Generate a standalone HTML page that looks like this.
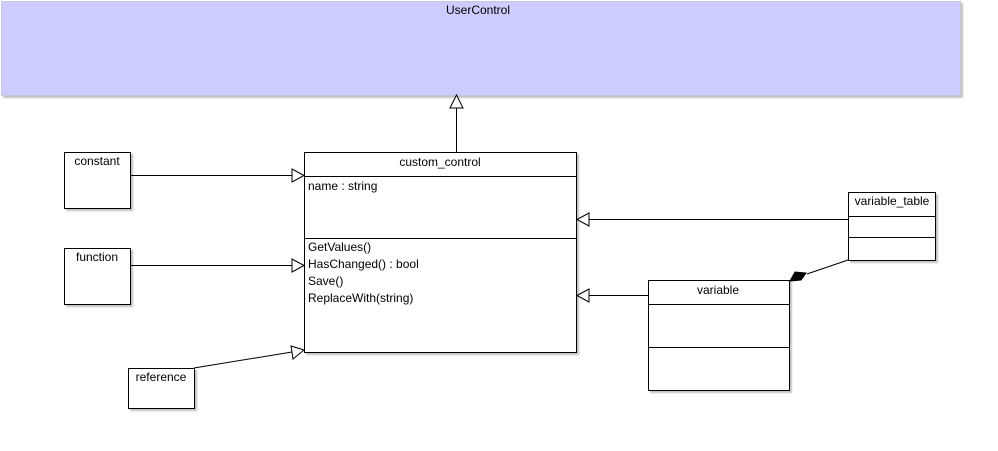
<!DOCTYPE html>
<html><head><style>
body{margin:0;background:#fff;width:998px;height:446px;overflow:hidden}
svg text{font-family:"Liberation Sans",sans-serif;font-size:12px;fill:#000}
</style></head><body>
<svg width="998" height="446" xmlns="http://www.w3.org/2000/svg">
<defs><filter id="s" x="-5%" y="-5%" width="115%" height="115%"><feDropShadow dx="2" dy="2" stdDeviation="0.8" flood-color="#999" flood-opacity="0.6"/></filter></defs>
<rect x="1.5" y="1.5" width="959" height="94" fill="#ccccff" stroke="#c8c8d8" filter="url(#s)"/>
<text x="478" y="14" text-anchor="middle">UserControl</text>
<g fill="#fff" stroke="#000" stroke-width="1">
<rect x="304.5" y="152.5" width="272" height="200" filter="url(#s)"/>
<rect x="64.5" y="152.5" width="66" height="56" filter="url(#s)"/>
<rect x="64.5" y="248.5" width="66" height="56" filter="url(#s)"/>
<rect x="128.5" y="368.5" width="66" height="40" filter="url(#s)"/>
<rect x="848.5" y="192.5" width="87" height="68" filter="url(#s)"/>
<rect x="648.5" y="280.5" width="141" height="110" filter="url(#s)"/>
</g>
<g stroke="#000" fill="none">
<line x1="304" y1="176.5" x2="577" y2="176.5"/>
<line x1="304" y1="238.5" x2="577" y2="238.5"/>
<line x1="848" y1="216.5" x2="936" y2="216.5"/>
<line x1="848" y1="237.5" x2="936" y2="237.5"/>
<line x1="648" y1="304.5" x2="790" y2="304.5"/>
<line x1="648" y1="347.5" x2="790" y2="347.5"/>
<line x1="456.5" y1="152" x2="456.5" y2="108"/>
<polygon points="456.5,95 450,108 463,108" fill="#fff"/>
<line x1="130" y1="175.5" x2="292" y2="175.5"/>
<polygon points="304,175.5 292,169 292,182" fill="#fff"/>
<line x1="130" y1="265.5" x2="292" y2="265.5"/>
<polygon points="304,265.5 292,259 292,272" fill="#fff"/>
<line x1="194" y1="368" x2="292" y2="352"/>
<polygon points="304,350 291,346 293,359" fill="#fff"/>
<line x1="848" y1="219.5" x2="589" y2="219.5"/>
<polygon points="577,219.5 589,213 589,226" fill="#fff"/>
<line x1="648" y1="295.5" x2="589" y2="295.5"/>
<polygon points="577,295.5 589,289 589,302" fill="#fff"/>
<line x1="848" y1="260" x2="807" y2="274"/>
<polygon points="790,281 795,272 806,273 801,280" fill="#000"/>
</g>
<text x="440" y="166" text-anchor="middle">custom_control</text>
<text x="308" y="190">name : string</text>
<text x="308" y="251">GetValues()</text>
<text x="308" y="268">HasChanged() : bool</text>
<text x="308" y="285">Save()</text>
<text x="308" y="302">ReplaceWith(string)</text>
<text x="97" y="165" text-anchor="middle">constant</text>
<text x="97" y="261" text-anchor="middle">function</text>
<text x="161" y="381" text-anchor="middle">reference</text>
<text x="892" y="205" text-anchor="middle">variable_table</text>
<text x="718" y="294" text-anchor="middle">variable</text>
</svg>
</body></html>
